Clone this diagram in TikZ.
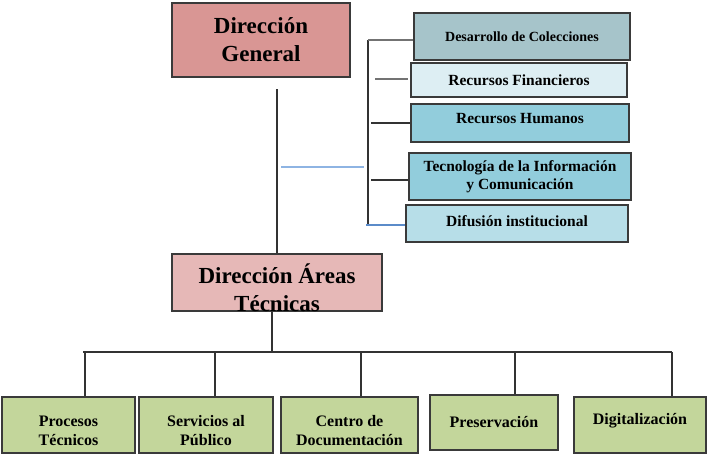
\documentclass[tikz,border=0pt]{standalone}
\usepackage{fontspec}
\setmainfont{Liberation Serif}
\usepackage{tikz}
\usetikzlibrary{positioning}

\definecolor{dgfill}{HTML}{D99694}
\definecolor{datfill}{HTML}{E6B8B7}
\definecolor{colfill}{HTML}{A6C4CA}
\definecolor{finfill}{HTML}{DDEEF3}
\definecolor{humfill}{HTML}{92CDDC}
\definecolor{difufill}{HTML}{B7DEE8}
\definecolor{areafill}{HTML}{C3D69B}
\definecolor{boxline}{HTML}{3A3A3A}
\definecolor{linkblue}{HTML}{5B8BC9}
\definecolor{paleblue}{HTML}{8EB4E3}

\tikzset{
    unitbox/.style={draw=boxline, line width=1.2pt, rectangle, inner sep=0pt, align=center, font=\bfseries},
    bigtext/.style={font=\fontsize{23}{28}\selectfont\bfseries},
    midtext/.style={font=\fontsize{15.5}{18}\selectfont\bfseries},
    areatext/.style={font=\fontsize{16}{19}\selectfont\bfseries},
    link/.style={line width=1.2pt, draw=black!80}
}

\begin{document}
\begin{tikzpicture}[x=1pt, y=-1pt]
        \useasboundingbox (0,0) rectangle (707,455);
        % direccion
        \node[unitbox, bigtext, fill=dgfill, minimum width=178pt, minimum height=74pt] (dg) at (261,40) {Dirección\\General};
        \node[unitbox, fill=datfill, minimum width=210pt, minimum height=57pt,
              label={[bigtext, align=center, yshift=-5.5pt]center:Dirección Áreas\\Técnicas}] (dat) at (277,282.5) {};
        % unidades de apoyo
        \node[unitbox, fill=colfill, minimum width=216pt, minimum height=47pt, font=\fontsize{14}{17}\selectfont\bfseries] (dc) at (522,36.5) {Desarrollo de Colecciones};
        \node[unitbox, midtext, fill=finfill, minimum width=216pt, minimum height=34pt] (rf) at (519,80) {Recursos Financieros};
        \node[unitbox, midtext, fill=humfill, minimum width=218pt, minimum height=38pt,
              label={[midtext, yshift=4pt]center:Recursos Humanos}] (rh) at (520,123) {};
        \node[unitbox, midtext, fill=humfill, minimum width=222pt, minimum height=47pt] (ti) at (520,176.5) {Tecnología de la Información\\y Comunicación};
        \node[unitbox, midtext, fill=difufill, minimum width=222pt, minimum height=37pt,
              label={[midtext, yshift=2pt]center:Difusión institucional}] (di) at (517,223.5) {};
        % areas tecnicas
        \node[unitbox, fill=areafill, minimum width=133pt, minimum height=56pt,
              label={[areatext, align=center, yshift=-6pt]center:Procesos\\Técnicos}] (pt) at (68.5,425) {};
        \node[unitbox, fill=areafill, minimum width=134pt, minimum height=56pt,
              label={[areatext, align=center, yshift=-6pt]center:Servicios al\\Público}] (sp) at (206,425) {};
        \node[unitbox, fill=areafill, minimum width=137pt, minimum height=56pt,
              label={[areatext, align=center, yshift=-6pt]center:Centro de\\Documentación}] (cd) at (349.5,425) {};
        \node[unitbox, areatext, fill=areafill, minimum width=128pt, minimum height=55pt] (pr) at (494,422.5) {Preservación};
        \node[unitbox, fill=areafill, minimum width=132pt, minimum height=56pt,
              label={[areatext, yshift=4pt]center:Digitalización}] (dz) at (640,425) {};

        \coordinate (dgstem) at (277,89);
        \coordinate (brtop) at (368,40);
        \coordinate (brbot) at (368,226);
        \coordinate (finL) at (375,79);
        \coordinate (finR) at (408,79);
        \coordinate (blueL) at (281,167);
        \coordinate (blueR) at (364,167);
        \coordinate (datfoot) at (272,311);
        \coordinate (busL) at (83,352);
        \coordinate (busR) at (672,352);

        \draw[link] (dgstem) -- (dgstem |- dat.north);
        \draw[link] (brtop) -- (brbot);
        \draw[line width=1.2pt, black!55] (brtop) -- (dc.west |- brtop);
        \draw[line width=1.2pt, black!55] (finL) -- (finR);
        \draw[link] (371,123) -- (rh.west |- 0,123);
        \draw[link] (371,180) -- (ti.west |- 0,180);
        \draw[line width=1.2pt, linkblue] (366,225) -- (di.west |- 0,225);
        \draw[line width=1.1pt, paleblue] (blueL) -- (blueR);

        \draw[link] (datfoot) -- (datfoot |- busL);
        \draw[link] (busL) -- (busR);
        \foreach \unit/\xx in {pt/85, sp/215, cd/361, pr/515, dz/672}
            \draw[link] (\xx,352) -- (\unit.north -| \xx,0);
    \end{tikzpicture}
\end{document}
